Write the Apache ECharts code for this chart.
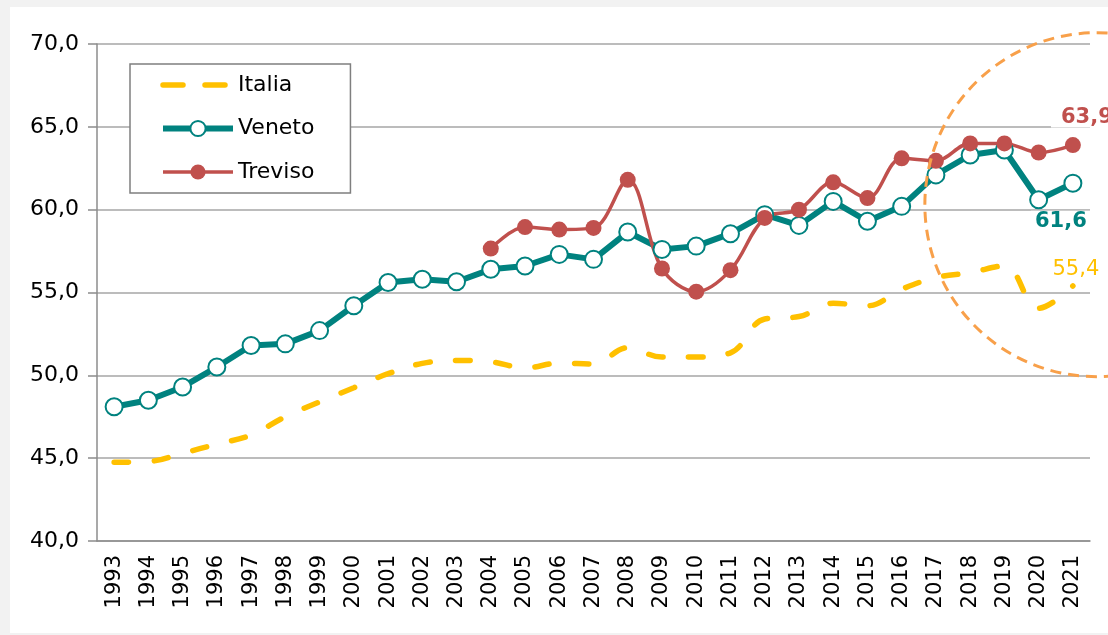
<!DOCTYPE html>
<html>
<head>
<meta charset="utf-8">
<script src="https://cdn.jsdelivr.net/npm/echarts@6/dist/echarts.min.js"></script>
<style>
html, body { margin: 0; padding: 0; background: #f2f2f2; }
#panel { position: absolute; left: 10px; top: 7px; width: 1098px; height: 626px; background: #fff; }
#chart { position: absolute; left: 0; top: 0; width: 1108px; height: 635px; }
</style>
</head>
<body>
<div id="panel"></div>
<div id="chart"></div>
<script>
const years = ['1993', '1994', '1995', '1996', '1997', '1998', '1999', '2000', '2001', '2002',
  '2003', '2004', '2005', '2006', '2007', '2008', '2009', '2010', '2011', '2012',
  '2013', '2014', '2015', '2016', '2017', '2018', '2019', '2020', '2021']

const italia = [44.75, 44.8, 45.3, 45.85, 46.4, 47.5, 48.4, 49.25, 50.1, 50.72,
  50.9, 50.82, 50.45, 50.74, 50.68, 51.67, 51.1, 51.1, 51.36, 53.4,
  53.55, 54.35, 54.2, 55.2, 55.9, 56.2, 56.6, 54.05, 55.4]

const veneto = [48.1, 48.5, 49.3, 50.5, 51.8, 51.9, 52.7, 54.2, 55.6, 55.8,
  55.65, 56.4, 56.6, 57.3, 57.0, 58.65, 57.6, 57.8, 58.55, 59.7,
  59.05, 60.5, 59.3, 60.2, 62.1, 63.3, 63.6, 60.6, 61.6]

const treviso = [null, null, null, null, null, null, null, null, null, null,
  null, 57.65, 58.95, 58.8, 58.9, 61.8, 56.45, 55.05, 56.35, 59.5,
  60.0, 61.65, 60.7, 63.1, 62.95, 64.0, 64.0, 63.45, 63.9]

const FONT = 'DejaVu Sans'
const C_ITALIA = '#FFC000'
const C_VENETO = '#00827F'
const C_TREVISO = '#C0504D'

function fmt(v) {
  return Number(v).toFixed(1).replace('.', ',')
}

// last point of each series carries the value label
function withEndLabel(values, label, extra) {
  return values.map((v, i) => {
    if (i !== values.length - 1) return v
    return Object.assign({ value: v, label: label }, extra || {})
  })
}

const chart = echarts.init(document.getElementById('chart'))

const option = {
  animation: false,
  grid: { left: 97, right: 18, top: 44, bottom: 94 },
  legend: {
    orient: 'vertical',
    left: 130,
    top: 64,
    padding: [10, 36, 10, 30],
    itemWidth: 70,
    itemHeight: 19,
    itemGap: 21.5,
    backgroundColor: '#fff',
    borderColor: '#7f7f7f',
    borderWidth: 1.5,
    borderRadius: 0,
    lineStyle: { width: 'inherit' },
    textStyle: { fontFamily: FONT, fontSize: 22, color: '#000' },
    data: [
      { name: 'Italia', itemStyle: { color: 'rgba(0,0,0,0)', borderWidth: 0 }, lineStyle: { type: [20, 22], cap: 'round' } },
      'Veneto',
      'Treviso'
    ]
  },
  xAxis: {
    type: 'category',
    data: years,
    boundaryGap: true,
    axisLine: { lineStyle: { color: '#8c8c8c', width: 1.5 } },
    axisTick: { length: 8, lineStyle: { color: '#8c8c8c', width: 1.5 } },
    axisLabel: { rotate: 90, interval: 0, margin: 14, fontFamily: FONT, fontSize: 21, color: '#000' }
  },
  yAxis: {
    type: 'value',
    min: 40,
    max: 70,
    interval: 5,
    axisLine: { show: true, lineStyle: { color: '#8c8c8c', width: 1.5 } },
    axisTick: { show: true, length: 9, lineStyle: { color: '#8c8c8c', width: 1.5 } },
    splitLine: { lineStyle: { color: '#a6a6a6', width: 1.5 } },
    axisLabel: { formatter: fmt, margin: 18, fontFamily: FONT, fontSize: 22, color: '#000' }
  },
  series: [
    {
      name: 'Italia',
      type: 'line',
      smooth: 0.4,
      symbol: 'none',
      showAllSymbol: true,
      lineStyle: { color: C_ITALIA, width: 5.5, type: [14.5, 25.5], cap: 'round' },
      itemStyle: { color: 'rgba(0,0,0,0)' },
      data: withEndLabel(italia, {
        show: true, position: 'inside', offset: [3, -16], formatter: p => fmt(p.value),
        color: C_ITALIA, fontFamily: FONT, fontSize: 21
      }, { symbol: 'circle', symbolSize: 0 })
    },
    {
      name: 'Veneto',
      type: 'line',
      symbol: 'circle',
      symbolSize: 17,
      showAllSymbol: true,
      lineStyle: { color: C_VENETO, width: 6 },
      itemStyle: { color: '#fff', borderColor: C_VENETO, borderWidth: 2 },
      data: withEndLabel(veneto, {
        show: true, position: 'inside', offset: [-12, 38], formatter: p => fmt(p.value),
        color: C_VENETO, fontFamily: FONT, fontSize: 21, fontWeight: 'bold',
        backgroundColor: '#fff', padding: [0, 4]
      })
    },
    {
      name: 'Treviso',
      type: 'line',
      smooth: 0.35,
      symbol: 'circle',
      symbolSize: 16,
      showAllSymbol: true,
      lineStyle: { color: C_TREVISO, width: 3.5 },
      itemStyle: { color: C_TREVISO },
      data: withEndLabel(treviso, {
        show: true, position: 'inside', offset: [14, -28], formatter: p => fmt(p.value),
        color: C_TREVISO, fontFamily: FONT, fontSize: 21, fontWeight: 'bold',
        backgroundColor: '#fff', padding: [0, 10]
      })
    }
  ]
}

chart.setOption(option)

// dashed highlight circle around the last years
const last = chart.convertToPixel({ xAxisIndex: 0, yAxisIndex: 0 }, [years.length - 1, 60.3])
const step = chart.convertToPixel({ xAxisIndex: 0 }, 1) - chart.convertToPixel({ xAxisIndex: 0 }, 0)
chart.setOption({
  graphic: [{
    type: 'circle',
    silent: true,
    z: 100,
    shape: { cx: last[0] + step * 0.7, cy: last[1], r: 172 },
    style: { fill: 'none', stroke: '#F8A04A', lineWidth: 3, lineDash: [11, 7] }
  }]
})
</script>
</body>
</html>
